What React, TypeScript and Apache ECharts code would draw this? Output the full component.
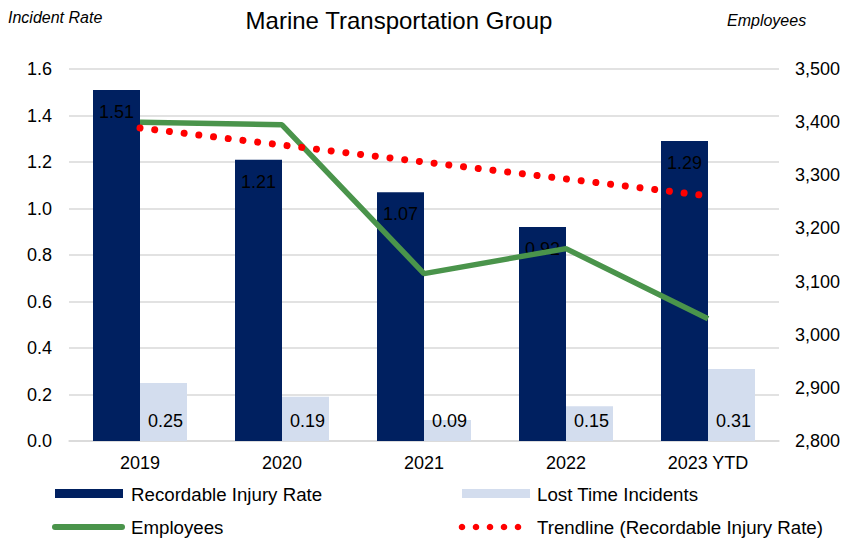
import React, { useEffect, useRef } from "react";
import * as echarts from "echarts";

const categories = ["2019", "2020", "2021", "2022", "2023 YTD"];
const recordableRate = [1.51, 1.21, 1.07, 0.92, 1.29];
const lostTime = [0.25, 0.19, 0.09, 0.15, 0.31];
const employees = [3400, 3395, 3115, 3162, 3030];
const trendline = [1.346, 1.273, 1.2, 1.127, 1.054];
const leftTicks = { min: 0, max: 1.6, interval: 0.2 };
const rightTicks = { min: 2800, max: 3500, interval: 100 };

const NAVY = "#002060";
const LIGHT = "#d3ddee";
const GREEN = "#4a944b";
const RED = "#ff0000";
const FONT = "Liberation Sans, Arial, sans-serif";
const FS = 18;
const LFS = 18.7;

export default function App() {
  const ref = useRef<HTMLDivElement>(null);
  useEffect(() => {
    if (!ref.current) return;
    const chart = echarts.init(ref.current, null, { renderer: "svg" });
    const legendDots = [0, 1, 2, 3, 4].map((i) => ({
      type: "circle",
      shape: { cx: 462 + i * 14, cy: 527, r: 3.3 },
      style: { fill: RED },
    }));
    chart.setOption({
      animation: false,
      textStyle: { fontFamily: FONT },
      title: {
        text: "Marine Transportation Group",
        left: 394,
        textAlign: "center",
        top: 3,
        textStyle: { fontFamily: FONT, fontSize: 24, fontWeight: "normal", color: "#000" },
      },
      grid: { left: 69, right: 67, top: 69, bottom: 98 },
      xAxis: {
        type: "category",
        data: categories,
        axisLine: { lineStyle: { color: "#d9d9d9", width: 1.5 } },
        axisTick: { show: false },
        axisLabel: { color: "#000", fontSize: FS, fontFamily: FONT, margin: 13 },
      },
      yAxis: [
        {
          type: "value",
          min: leftTicks.min,
          max: leftTicks.max,
          interval: leftTicks.interval,
          axisLabel: {
            color: "#000",
            fontSize: FS,
            fontFamily: FONT,
            margin: 17,
            formatter: (v: number) => v.toFixed(1),
          },
          splitLine: { lineStyle: { color: "#d9d9d9", width: 1.5 } },
          axisLine: { show: false },
          axisTick: { show: false },
        },
        {
          type: "value",
          min: rightTicks.min,
          max: rightTicks.max,
          interval: rightTicks.interval,
          axisLabel: {
            color: "#000",
            fontSize: FS,
            fontFamily: FONT,
            margin: 16,
            formatter: (v: number) => v.toLocaleString("en-US"),
          },
          splitLine: { show: false },
          axisLine: { show: false },
          axisTick: { show: false },
        },
      ],
      series: [
        {
          name: "Recordable Injury Rate",
          type: "bar",
          data: recordableRate,
          barWidth: 47,
          barGap: "0%",
          itemStyle: { color: NAVY },
          label: {
            show: true,
            position: "insideTop",
            distance: 13,
            color: "#000",
            fontSize: FS,
            fontFamily: FONT,
            formatter: (p: any) => p.value.toFixed(2),
          },
          z: 2,
        },
        {
          name: "Lost Time Incidents",
          type: "bar",
          data: lostTime,
          barWidth: 47,
          barGap: "0%",
          itemStyle: { color: LIGHT },
          label: {
            show: true,
            position: "insideBottom",
            distance: 11,
            offset: [2, 0],
            color: "#000",
            fontSize: FS,
            fontFamily: FONT,
            formatter: (p: any) => p.value.toFixed(2),
          },
          z: 2,
        },
        {
          name: "Employees",
          type: "line",
          yAxisIndex: 1,
          data: employees,
          symbol: "none",
          lineStyle: { color: GREEN, width: 5.5 },
          z: 3,
        },
        {
          name: "Trendline (Recordable Injury Rate)",
          type: "line",
          yAxisIndex: 0,
          data: trendline,
          symbol: "none",
          lineStyle: { color: RED, width: 7, type: [0.01, 14.8], cap: "round" },
          z: 4,
        },
      ],
      graphic: [
        {
          type: "text",
          left: 8,
          top: 9,
          style: { text: "Incident Rate", font: `italic 16px ${FONT}`, fill: "#000" },
        },
        {
          type: "text",
          left: 727,
          top: 12,
          style: { text: "Employees", font: `italic 16px ${FONT}`, fill: "#000" },
        },
        { type: "rect", shape: { x: 55, y: 489, width: 68, height: 9 }, style: { fill: NAVY } },
        { type: "text", x: 131, y: 494, style: { text: "Recordable Injury Rate", font: `${LFS}px ${FONT}`, fill: "#000", verticalAlign: "middle" } },
        { type: "rect", shape: { x: 462, y: 489, width: 68, height: 9 }, style: { fill: LIGHT } },
        { type: "text", x: 537, y: 494, style: { text: "Lost Time Incidents", font: `${LFS}px ${FONT}`, fill: "#000", verticalAlign: "middle" } },
        { type: "line", shape: { x1: 55, y1: 527, x2: 122, y2: 527 }, style: { stroke: GREEN, lineWidth: 6, lineCap: "round" } },
        { type: "text", x: 131, y: 527, style: { text: "Employees", font: `${LFS}px ${FONT}`, fill: "#000", verticalAlign: "middle" } },
        ...legendDots,
        { type: "text", x: 537, y: 527, style: { text: "Trendline (Recordable Injury Rate)", font: `${LFS}px ${FONT}`, fill: "#000", verticalAlign: "middle" } },
      ],
    });
    return () => chart.dispose();
  }, []);
  return <div ref={ref} style={{ width: 846, height: 539, position: "absolute", left: 0, top: 0 }} />;
}
